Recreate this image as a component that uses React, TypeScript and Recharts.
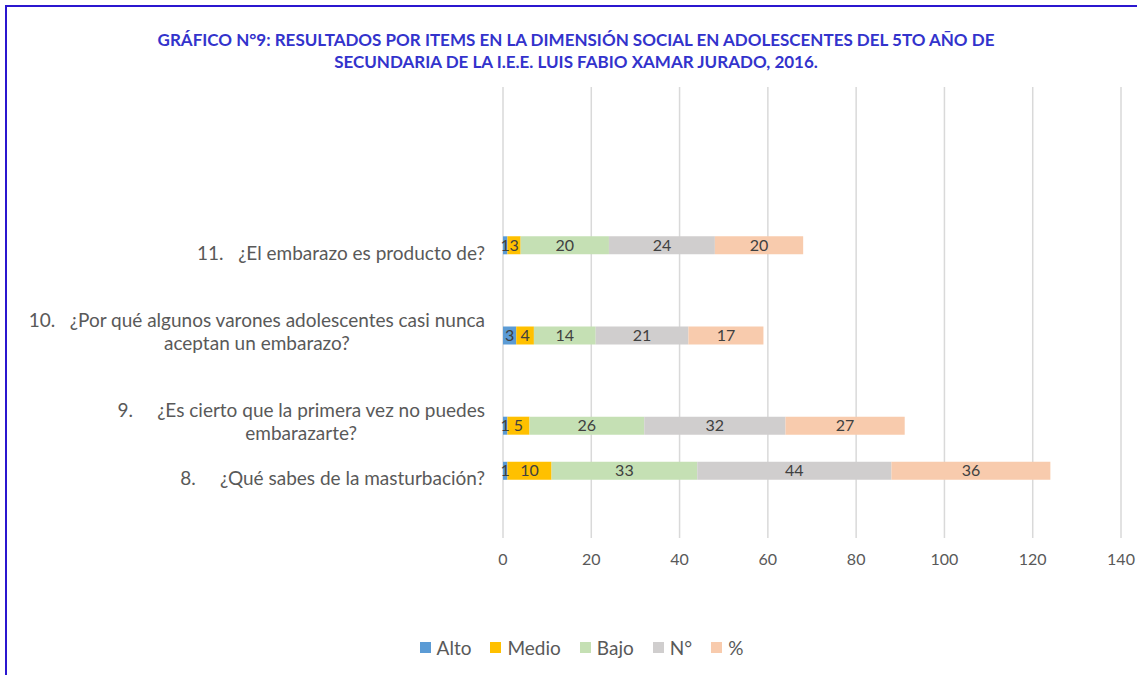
import React, { useLayoutEffect, useRef, useState } from "react";
import { BarChart, Bar, XAxis, YAxis, CartesianGrid, LabelList } from "recharts";

// ---- data ----
const questions = [
  "8.     ¿Qué sabes de la masturbación?",
  "9.     ¿Es cierto que la primera vez no puedes\nembarazarte?",
  "10.   ¿Por qué algunos varones adolescentes casi nunca\naceptan un embarazo?",
  "11.   ¿El embarazo es producto de?",
];
const alto = [1, 1, 3, 1];
const medio = [10, 5, 4, 3];
const bajo = [33, 26, 14, 20];
const numero = [44, 32, 21, 24];
const porcentaje = [36, 27, 17, 20];
// rows from top to bottom: index into questions, or -1 for an empty category slot
const rowOrder = [-1, -1, -1, 3, -1, 2, -1, 1, 0, -1];
const xTicks = [0, 20, 40, 60, 80, 100, 120, 140];

const seriesNames = ["Alto", "Medio", "Bajo", "N°", "%"];
const seriesKeys = ["alto", "medio", "bajo", "numero", "porcentaje"];
const seriesColors = ["#5B9BD5", "#FFC000", "#C5E0B4", "#D0CECE", "#F8CBAD"];

const data = rowOrder.map((qi, i) =>
  qi < 0
    ? { key: "slot" + i, label: "" }
    : {
        key: "slot" + i,
        label: questions[qi],
        alto: alto[qi],
        medio: medio[qi],
        bajo: bajo[qi],
        numero: numero[qi],
        porcentaje: porcentaje[qi],
      }
);
const labelByKey: Record<string, string> = {};
data.forEach((d) => (labelByKey[d.key] = d.label));

const FONT = "Lato, 'Open Sans', sans-serif";
const TEXT = "#595959";
const CAT_SIZE = 19;

const CatTick = (props: any) => {
  const { x, y, payload } = props;
  const label = labelByKey[payload.value] || "";
  const lines = label ? label.split("\n") : [];
  const ref = useRef<SVGTextElement>(null);
  const [w, setW] = useState(0);
  useLayoutEffect(() => {
    if (ref.current) {
      const nw = ref.current.getComputedTextLength();
      if (Math.abs(nw - w) > 0.5) setW(nw);
    }
  });
  if (!lines.length) return null;
  const n = lines.length;
  return (
    <g>
      {lines.map((ln, i) => {
        const ly = y + 7.5 - (n - 1 - i) * 23.5;
        if (i === 0)
          return (
            <text
              key={i}
              ref={ref}
              x={x}
              y={ly}
              textAnchor="end"
              dominantBaseline="central"
              fill={TEXT}
              fontSize={CAT_SIZE}
              fontFamily={FONT}
              style={{ whiteSpace: "pre" }}
            >
              {ln}
            </text>
          );
        return (
          <text
            key={i}
            x={x - w / 2}
            y={ly}
            textAnchor="middle"
            dominantBaseline="central"
            fill={TEXT}
            fontSize={CAT_SIZE}
            fontFamily={FONT}
          >
            {ln}
          </text>
        );
      })}
    </g>
  );
};

export default function App() {
  return (
    <div
      style={{
        position: "fixed",
        left: 0,
        top: 0,
        width: 1137,
        height: 675,
        background: "#fff",
        overflow: "hidden",
      }}
    >
      <div
        style={{
          position: "absolute",
          left: 5,
          top: 5,
          width: 1300,
          height: 800,
          borderTop: "2px solid #2B17CF",
          borderLeft: "2px solid #2B17CF",
        }}
      />
      <div style={{ position: "absolute", left: 0, top: 0 }}>
        <BarChart
          width={1137}
          height={675}
          data={data}
          layout="vertical"
          margin={{ top: 87, right: 16, bottom: 107, left: 0 }}
          barSize={18}
        >
          <CartesianGrid horizontal={false} stroke="#D9D9D9" strokeWidth={1.5} />
          <XAxis
            type="number"
            domain={[0, 140]}
            ticks={xTicks}
            axisLine={false}
            tickLine={false}
            tickSize={0}
            tickMargin={16}
            height={30}
            tick={{ fill: TEXT, fontSize: 16, fontFamily: FONT }}
          />
          <YAxis
            type="category"
            dataKey="key"
            width={503}
            axisLine={false}
            tickLine={false}
            tickSize={0}
            tickMargin={18}
            interval={0}
            tick={<CatTick />}
          />
          {seriesKeys.map((k, i) => (
            <Bar
              key={k}
              dataKey={k}
              name={seriesNames[i]}
              stackId="s"
              fill={seriesColors[i]}
              isAnimationActive={false}
            >
              <LabelList
                dataKey={k}
                position="center"
                fill="#404040"
                fontSize={16}
                fontFamily={FONT}
              />
            </Bar>
          ))}
        </BarChart>
      </div>
      <div
        style={{
          position: "absolute",
          left: 0,
          top: 29,
          width: 1152,
          textAlign: "center",
          color: "#3333CC",
          fontFamily: FONT,
          fontWeight: 700,
          fontSize: 17,
          lineHeight: "22px",
        }}
      >
        GRÁFICO N°9: RESULTADOS POR ITEMS EN LA DIMENSIÓN SOCIAL EN ADOLESCENTES DEL 5TO AÑO DE
        <br />
        SECUNDARIA DE LA I.E.E. LUIS FABIO XAMAR JURADO, 2016.
      </div>
      <div
        style={{
          position: "absolute",
          left: 0,
          top: 636,
          width: 1163,
          display: "flex",
          justifyContent: "center",
          gap: 19,
          fontFamily: FONT,
          fontSize: 19,
          color: TEXT,
        }}
      >
        {seriesNames.map((n, i) => (
          <div key={n} style={{ display: "flex", alignItems: "center", gap: 6 }}>
            <span style={{ width: 11, height: 11, background: seriesColors[i], display: "inline-block" }} />
            <span>{n}</span>
          </div>
        ))}
      </div>
    </div>
  );
}
